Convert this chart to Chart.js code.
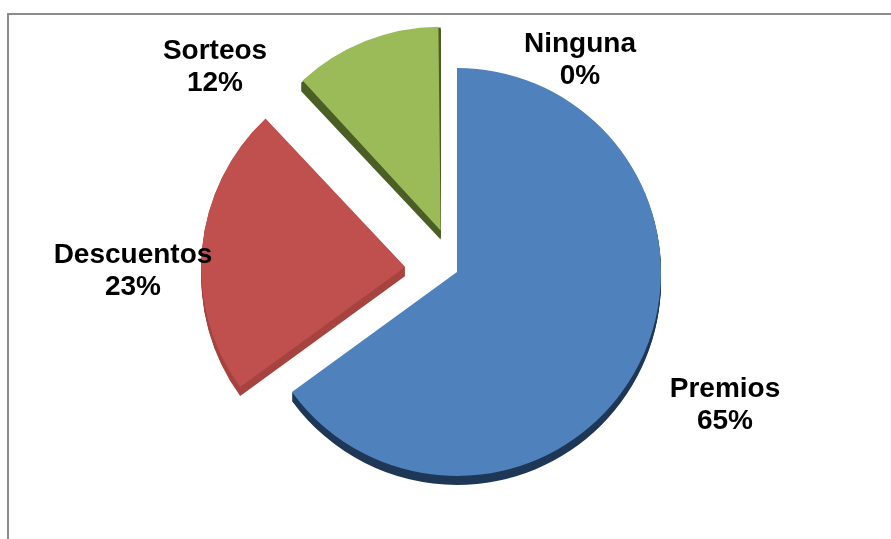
<!DOCTYPE html>
<html>
<head>
<meta charset="utf-8">
<script src="https://cdn.jsdelivr.net/npm/chart.js@4"></script>
<style>
  html, body { margin: 0; padding: 0; background: #fff; }
  #wrap { width: 891px; height: 539px; }
</style>
</head>
<body>
<div id="wrap"><canvas id="grafico" width="891" height="539"></canvas></div>
<script>
// categorias y porcentajes
const categorias = ["Premios", "Descuentos", "Sorteos", "Ninguna"];
const porcentajes = [65, 23, 12, 0];

// colores de la cara superior y del lateral (efecto 3D)
const coloresCara = ["#4f81bd", "#c0504d", "#9bbb59", "#8064a2"];
const coloresLado = ["#1f3756", "#a7433f", "#4b5e25", "#3f3151"];
// chart.js desplaza offset/4 pixeles
const separacion = [0, 208, 178, 0];
const RADIO = 204;

// donde va cada etiqueta (centro en x, linea base de la primera linea)
const posEtiquetas = [
    { x: 725, y: 397 },
    { x: 133, y: 263 },
    { x: 215, y: 59 },
    { x: 580, y: 52 },
];

// marco gris arriba y a la izquierda
const marco = {
    id: "marco",
    beforeDraw(chart) {
        const ctx = chart.ctx;
        ctx.save();
        ctx.strokeStyle = "#8c8c8c";
        ctx.lineWidth = 2;
        ctx.beginPath();
        ctx.moveTo(8, chart.height);
        ctx.lineTo(8, 14);
        ctx.lineTo(chart.width, 14);
        ctx.stroke();
        ctx.restore();
    },
};

// grosor de las porciones: copias desplazadas hacia abajo en color oscuro
const grosor = {
    id: "grosor",
    beforeDatasetsDraw(chart) {
        const ctx = chart.ctx;
        const meta = chart.getDatasetMeta(0);
        const prof = 9;
        ctx.save();
        meta.data.forEach((arc, i) => {
            const circ = arc.endAngle - arc.startAngle;
            if (circ <= 0) return;
            const off = (arc.options.offset || 0) / 4;
            const fix = 1 - Math.sin(Math.min(Math.PI, circ));
            // chart.js agranda el radio en off*fix; se compensa para que todas midan igual
            arc.outerRadius = RADIO - off * fix;
            const medio = (arc.startAngle + arc.endAngle) / 2;
            const cx = arc.x + Math.cos(medio) * off;
            const cy = arc.y + Math.sin(medio) * off;
            ctx.fillStyle = coloresLado[i];
            for (let d = 1; d <= prof; d++) {
                ctx.beginPath();
                ctx.moveTo(cx, cy + d);
                ctx.arc(cx, cy + d, RADIO, arc.startAngle, arc.endAngle);
                ctx.closePath();
                ctx.fill();
            }
        });
        ctx.restore();
    },
};

// etiquetas con nombre y porcentaje
const etiquetas = {
    id: "etiquetas",
    afterDatasetsDraw(chart) {
        const ctx = chart.ctx;
        ctx.save();
        ctx.fillStyle = "#000";
        ctx.font = "bold 28px 'Liberation Sans', Arial, sans-serif";
        ctx.textAlign = "center";
        ctx.textBaseline = "alphabetic";
        categorias.forEach((cat, i) => {
            const pos = posEtiquetas[i];
            ctx.fillText(cat, pos.x, pos.y);
            ctx.fillText(porcentajes[i] + "%", pos.x, pos.y + 32);
        });
        ctx.restore();
    },
};

new Chart(document.getElementById("grafico"), {
    type: "pie",
    data: {
        labels: categorias,
        datasets: [{
            data: porcentajes,
            backgroundColor: coloresCara,
            borderWidth: 0,
            offset: separacion,
            hoverOffset: 0,
        }],
    },
    options: {
        responsive: false,
        animation: false,
        radius: RADIO,
        layout: { padding: { left: 23, right: 0, top: 5, bottom: 0 } },
        plugins: {
            legend: { display: false },
            tooltip: { enabled: false },
        },
    },
    plugins: [marco, grosor, etiquetas],
});
</script>
</body>
</html>
